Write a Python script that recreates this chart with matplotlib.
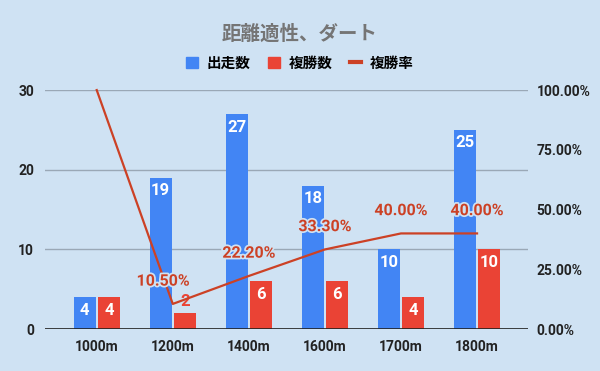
import numpy as np
import matplotlib.pyplot as plt
import matplotlib.patheffects as pe
from matplotlib.patches import Patch
from matplotlib.lines import Line2D

plt.rcParams['font.family'] = ['Roboto', 'Noto Sans CJK JP', 'DejaVu Sans']

# データ
categories = ['1000m', '1200m', '1400m', '1600m', '1700m', '1800m']
starts = [4, 19, 27, 18, 10, 25]      # 出走数
places = [4, 2, 6, 6, 4, 10]          # 複勝数
place_rate = [100.0, 10.5, 22.2, 33.3, 40.0, 40.0]   # 複勝率 (%)

BG = '#cfe2f3'
BLUE = '#4285f4'
RED = '#ea4335'
LINE = '#cc4125'

fig = plt.figure(figsize=(6, 3.71), dpi=100, facecolor=BG)
ax = fig.add_axes([0.075, 0.1132, 0.805, 0.644])
ax.set_facecolor(BG)
ax2 = ax.twinx()

x = np.arange(len(categories))
w = 0.29
b1 = ax.bar(x - w / 2 - 0.015, starts, w, color=BLUE, zorder=2)
b2 = ax.bar(x + w / 2 + 0.015, places, w, color=RED, zorder=2)

ax.set_xlim(-0.68, 5.67)
ax.set_ylim(0, 30)
ax.set_yticks([0, 10, 20, 30])
ax.grid(axis='y', color='#9aa8b6', linewidth=1, zorder=0)
ax.set_xticks(x)
ax.set_xticklabels(categories)
for s in ax.spines.values():
    s.set_visible(False)
for s in ax2.spines.values():
    s.set_visible(False)
ax.axhline(0, color='#222222', linewidth=1.2, zorder=3)
ax.tick_params(length=0, labelsize=10, colors='#222222', pad=8)
for t in ax.get_xticklabels() + ax.get_yticklabels():
    t.set_fontweight('bold')

# 棒のラベル
for bars in (b1, b2):
    for r in bars:
        h = r.get_height()
        cx = r.get_x() + r.get_width() / 2
        if h >= 3:
            ax.annotate(str(int(h)), (cx, h), xytext=(0, -4), textcoords='offset points',
                        ha='center', va='top', color='white', fontsize=12,
                        fontweight='bold', zorder=4)
        else:
            ax.annotate(str(int(h)), (cx, h), xytext=(0, 3), textcoords='offset points',
                        ha='center', va='bottom', color=RED, fontsize=12,
                        fontweight='bold', zorder=4)

# 複勝率の折れ線
rate = np.array(place_rate) / 100
ax2.plot(x, rate, color=LINE, linewidth=1.6, clip_on=False, zorder=5)
ax2.set_ylim(0, 1)
ax2.set_yticks([0, 0.25, 0.5, 0.75, 1.0])
ax2.set_yticklabels(['0.00%', '25.00%', '50.00%', '75.00%', '100.00%'])
ax2.tick_params(length=0, labelsize=10, colors='#222222', pad=6)
for t in ax2.get_yticklabels():
    t.set_fontweight('bold')

halo = [pe.withStroke(linewidth=2.5, foreground=BG)]
for i, v in enumerate(place_rate):
    if v >= 100:
        continue
    dx = -7 if i == 1 else 0
    ax2.annotate(f'{v:.2f}%', (x[i], rate[i]), xytext=(dx, 11), textcoords='offset points',
                 ha='center', va='bottom', color=LINE, fontsize=11.5,
                 fontweight='bold', path_effects=halo, zorder=6)

fig.text(0.5, 0.908, '距離適性、ダート', ha='center', va='center',
         fontsize=14, fontweight='bold', color='#757575')

# 凡例
handles = [Patch(color=BLUE, label='出走数'), Patch(color=RED, label='複勝数'),
           Line2D([0], [0], color=LINE, linewidth=3, label='複勝率')]
fig.legend(handles=handles, loc='center', bbox_to_anchor=(0.5, 0.828), ncol=3,
           frameon=False, prop={'weight': 'bold', 'size': 10.5},
           handlelength=0.8, handleheight=0.8, handletextpad=0.6, columnspacing=1.2)

fig.savefig('out.png', dpi=100, facecolor=BG)
